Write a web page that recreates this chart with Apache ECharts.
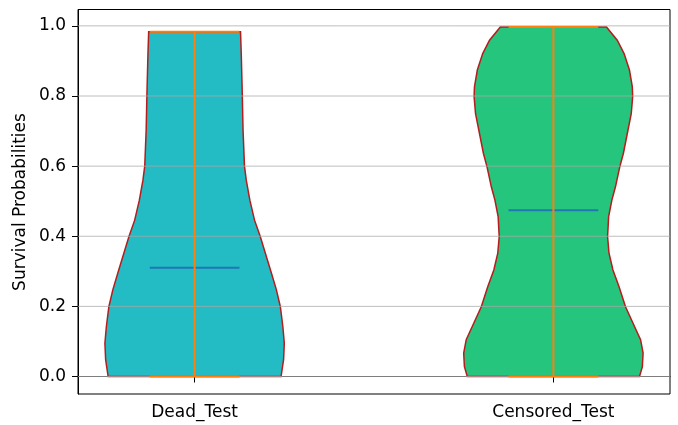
<!DOCTYPE html>
<html>
<head>
<meta charset="utf-8">
<script src="https://cdn.jsdelivr.net/npm/echarts@6/dist/echarts.min.js"></script>
<style>
  html, body { margin: 0; padding: 0; background: #fff; }
  #chart { width: 678px; height: 425px; }
</style>
</head>
<body>
<div id="chart"></div>
<script>
// Groups shown on the x axis (violins sit at positions 1 and 2)
const categories = ['Dead_Test', 'Censored_Test'];
const positions = [1, 2];

// Density outline of each violin: probability level and half-width (x-axis units)
const deadLevels = [0, 0.048, 0.095, 0.142, 0.199, 0.247, 0.295, 0.352, 0.399, 0.446, 0.503, 0.560, 0.600, 0.703, 0.800, 0.921, 0.983];
const deadHalfWidths = [0.241, 0.248, 0.250, 0.246, 0.239, 0.228, 0.214, 0.197, 0.183, 0.167, 0.154, 0.144, 0.139, 0.135, 0.133, 0.130, 0.128];

const censoredLevels = [0, 0.028, 0.067, 0.105, 0.152, 0.199, 0.256, 0.304, 0.352, 0.399, 0.456, 0.503, 0.541, 0.598, 0.636, 0.693, 0.750, 0.798, 0.826, 0.874, 0.921, 0.959, 0.997];
const censoredHalfWidths = [0.240, 0.248, 0.250, 0.243, 0.222, 0.201, 0.183, 0.166, 0.155, 0.151, 0.154, 0.163, 0.173, 0.185, 0.195, 0.206, 0.217, 0.221, 0.220, 0.212, 0.197, 0.178, 0.148];

// Summary statistics per group
const minValues = [0, 0];
const maxValues = [0.983, 0.997];
const meanValues = [0.310, 0.474];

// Y tick labels and axis title
const yTicks = [0, 0.2, 0.4, 0.6, 0.8, 1.0];
const yTitle = 'Survival Probabilities';

const profiles = [
  { levels: deadLevels, hw: deadHalfWidths },
  { levels: censoredLevels, hw: censoredHalfWidths }
];
const fills = ['#23bcc4', '#25c57d'];
const edgeColor = '#b51d1d';
const capHalf = 0.125;
const xMin = 0.675, xMax = 2.325;
const yMin = -0.0499, yMax = 1.0467;

const chart = echarts.init(document.getElementById('chart'), null, { renderer: 'canvas' });

function violinItem(params, api) {
  const i = params.dataIndex;
  const pos = positions[i];
  const p = profiles[i];
  const pts = [];
  for (let k = 0; k < p.levels.length; k++) pts.push(api.coord([pos + p.hw[k], p.levels[k]]));
  for (let k = p.levels.length - 1; k >= 0; k--) pts.push(api.coord([pos - p.hw[k], p.levels[k]]));
  return {
    type: 'polygon',
    shape: { points: pts },
    style: { fill: fills[i], stroke: edgeColor, lineWidth: 1.5 }
  };
}

function gridItem(params, api) {
  const v = yTicks[params.dataIndex];
  const a = api.coord([xMin, v]);
  const b = api.coord([xMax, v]);
  return {
    type: 'line',
    shape: { x1: a[0], y1: a[1], x2: b[0], y2: b[1] },
    style: { stroke: 'rgba(168,168,168,0.75)', lineWidth: 1 }
  };
}

function meanItem(params, api) {
  const i = params.dataIndex;
  const a = api.coord([positions[i] - capHalf, meanValues[i]]);
  const b = api.coord([positions[i] + capHalf, meanValues[i]]);
  return {
    type: 'line',
    shape: { x1: a[0], y1: a[1], x2: b[0], y2: b[1] },
    style: { stroke: '#1f77b4', lineWidth: 2 }
  };
}

function rangeItem(params, api) {
  const i = params.dataIndex;
  const pos = positions[i];
  const lo = api.coord([pos, minValues[i]]);
  const hi = api.coord([pos, maxValues[i]]);
  const l0 = api.coord([pos - capHalf, minValues[i]]);
  const r0 = api.coord([pos + capHalf, minValues[i]]);
  const l1 = api.coord([pos - capHalf, maxValues[i]]);
  const r1 = api.coord([pos + capHalf, maxValues[i]]);
  const st = { stroke: '#ff7f0e', lineWidth: 2 };
  return {
    type: 'group',
    children: [
      { type: 'line', shape: { x1: lo[0], y1: lo[1], x2: hi[0], y2: hi[1] }, style: st },
      { type: 'line', shape: { x1: l0[0], y1: l0[1], x2: r0[0], y2: r0[1] }, style: st },
      { type: 'line', shape: { x1: l1[0], y1: l1[1], x2: r1[0], y2: r1[1] }, style: st }
    ]
  };
}

const textStyle = { fontFamily: 'DejaVu Sans', fontSize: 17, color: '#000' };

chart.setOption({
  animation: false,
  backgroundColor: '#fff',
  grid: {
    left: 78, right: 8, top: 9.5, bottom: 31,
    show: true, borderColor: '#000', borderWidth: 1, backgroundColor: 'transparent'
  },
  // Rotated y-axis title
  graphic: [{
    type: 'text', x: 21, y: 202, rotation: Math.PI / 2, silent: true,
    style: {
      text: yTitle, fill: '#000', font: '17px "DejaVu Sans"',
      align: 'center', verticalAlign: 'middle'
    }
  }],
  xAxis: {
    type: 'value', min: xMin, max: xMax,
    axisLine: { show: true, lineStyle: { color: '#000', width: 1 } },
    axisTick: { show: true, customValues: positions, length: 6, lineStyle: { color: '#000' } },
    axisLabel: Object.assign({
      customValues: positions, margin: 10,
      formatter: v => categories[Math.round(v) - 1]
    }, textStyle),
    splitLine: { show: false }
  },
  yAxis: {
    type: 'value', min: yMin, max: yMax,
    axisLine: { show: true, lineStyle: { color: '#000', width: 1 } },
    axisTick: { show: true, customValues: yTicks, length: 6, lineStyle: { color: '#000' } },
    axisLabel: Object.assign({
      customValues: yTicks, margin: 12,
      formatter: v => v.toFixed(1)
    }, textStyle),
    splitLine: { show: false }
  },
  series: [
    { type: 'custom', name: 'violins', z: 2, renderItem: violinItem,
      data: positions.map(p => [p, 0]), encode: { x: 0, y: 1 }, silent: true },
    { type: 'custom', name: 'grid', z: 3, renderItem: gridItem,
      data: yTicks.map(v => [xMin, v]), encode: { x: 0, y: 1 }, silent: true },
    { type: 'custom', name: 'means', z: 4, renderItem: meanItem,
      data: positions.map((p, i) => [p, meanValues[i]]), encode: { x: 0, y: 1 }, silent: true },
    { type: 'custom', name: 'extrema', z: 5, renderItem: rangeItem,
      data: positions.map((p, i) => [p, maxValues[i]]), encode: { x: 0, y: 1 }, silent: true }
  ]
});
</script>
</body>
</html>
